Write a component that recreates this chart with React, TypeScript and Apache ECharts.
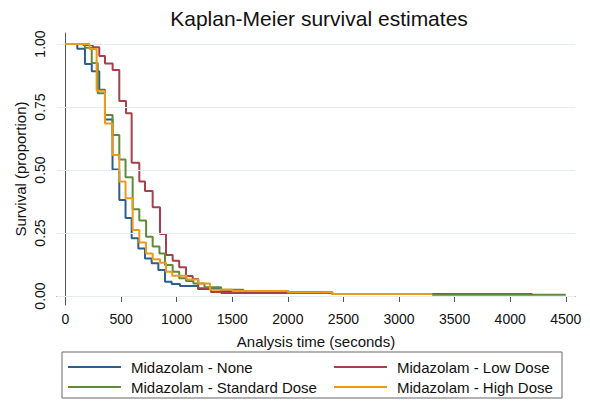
import React, { useEffect, useRef } from "react";
import * as echarts from "echarts";

const noneTimes = [0, 106, 175, 236, 304, 355, 423, 484, 540, 595, 655, 715, 775, 835, 895, 955, 1030, 1192, 1400, 2000, 2350];
const noneSurv = [1, 0.981, 0.921, 0.892, 0.818, 0.70, 0.502, 0.381, 0.31, 0.229, 0.189, 0.149, 0.13, 0.103, 0.057, 0.048, 0.04, 0.028, 0.02, 0.016, 0.016];

const lowTimes = [0, 160, 245, 304, 355, 424, 484, 544, 595, 664, 715, 784, 850, 904, 964, 1023, 1084, 1144, 1194, 1308, 1400, 2400, 4200];
const lowSurv = [1, 0.996, 0.987, 0.952, 0.923, 0.897, 0.774, 0.725, 0.529, 0.454, 0.417, 0.352, 0.246, 0.163, 0.14, 0.114, 0.079, 0.067, 0.031, 0.016, 0.012, 0.008, 0.008];

const stdTimes = [0, 175, 236, 290, 355, 423, 484, 540, 604, 664, 725, 784, 845, 895, 964, 1023, 1084, 1150, 1250, 1400, 1600, 2000, 2400, 3300, 4500];
const stdSurv = [1, 0.985, 0.925, 0.805, 0.718, 0.639, 0.542, 0.471, 0.344, 0.3, 0.235, 0.196, 0.169, 0.123, 0.096, 0.07, 0.06, 0.05, 0.035, 0.025, 0.02, 0.015, 0.008, 0.005, 0.005];

const highTimes = [0, 215, 280, 355, 423, 484, 540, 604, 664, 724, 784, 850, 904, 960, 1090, 1194, 1300, 1500, 2000, 2400, 3300];
const highSurv = [1, 0.98, 0.815, 0.685, 0.56, 0.454, 0.388, 0.262, 0.212, 0.169, 0.146, 0.132, 0.096, 0.08, 0.065, 0.05, 0.025, 0.02, 0.015, 0.008, 0.008];

const seriesNames = ["Midazolam - None", "Midazolam - Low Dose", "Midazolam - Standard Dose", "Midazolam - High Dose"];
const xTicks = [0, 500, 1000, 1500, 2000, 2500, 3000, 3500, 4000, 4500];
const yTicks = [0, 0.25, 0.5, 0.75, 1];

const FONT = "Liberation Sans, Arial, Helvetica, sans-serif";

function zip(t: number[], s: number[]) {
  return t.map((v, i) => [v, s[i]]);
}

export default function App() {
  const ref = useRef<HTMLDivElement>(null);
  useEffect(() => {
    if (!ref.current) return;
    const chart = echarts.init(ref.current, undefined, { renderer: "svg" });
    const colors = ["#2c5e8e", "#a8404c", "#5f8a3a", "#ec9a1c"];
    const datas = [zip(noneTimes, noneSurv), zip(lowTimes, lowSurv), zip(stdTimes, stdSurv), zip(highTimes, highSurv)];
    const series: any[] = datas.map((d, i) => ({
      name: seriesNames[i],
      type: "line",
      step: "end",
      symbol: "none",
      data: d,
      lineStyle: { width: 2, color: colors[i] },
      itemStyle: { color: colors[i] },
      z: 3 + i,
    }));
    series.unshift({
      name: "grid",
      type: "line",
      data: [],
      silent: true,
      z: 1,
      markLine: {
        silent: true,
        symbol: ["none", "none"],
        label: { show: false },
        lineStyle: { color: "#e4ecee", width: 1, type: "solid" },
        data: yTicks.map((v) => ({ yAxis: v })),
      },
    });
    const legendCommon = {
      orient: "vertical",
      top: 357,
      padding: 0,
      icon: "rect",
      itemWidth: 53,
      itemHeight: 2,
      itemGap: 0,
      textStyle: { fontFamily: FONT, fontSize: 15, color: "#111", lineHeight: 20, height: 20, padding: [0, 0, 0, 5] },
    };
    chart.setOption({
      animation: false,
      backgroundColor: "#ffffff",
      color: colors,
      title: {
        text: "Kaplan-Meier survival estimates",
        left: 314,
        textAlign: "center",
        top: 3,
        textStyle: { fontFamily: FONT, fontSize: 21, fontWeight: "normal", color: "#111" },
      },
      grid: { left: 57, right: 15, top: 33, bottom: 98, containLabel: false },
      xAxis: {
        type: "value",
        min: -76.5,
        max: 4583,
        name: "Analysis time (seconds)",
        nameLocation: "middle",
        nameGap: 29,
        nameTextStyle: { fontFamily: FONT, fontSize: 15, color: "#111" },
        axisLine: { show: true, lineStyle: { color: "#555", width: 1 } },
        axisTick: { show: true, length: 6, customValues: xTicks, lineStyle: { color: "#555" } },
        axisLabel: {
          customValues: xTicks,
          fontFamily: FONT,
          fontSize: 14,
          color: "#111",
          margin: 7,
          formatter: (v: number) => String(v),
        },
        splitLine: { show: false },
      },
      yAxis: {
        type: "value",
        min: -0.0357,
        max: 1.0437,
        name: "Survival (proportion)",
        nameLocation: "middle",
        nameGap: 29,
        nameMoveOverlap: false,
        nameTextStyle: { fontFamily: FONT, fontSize: 15, color: "#111" },
        axisLine: { show: true, lineStyle: { color: "#555", width: 1 } },
        axisTick: { show: true, length: 5, customValues: yTicks, lineStyle: { color: "#555" } },
        axisLabel: {
          customValues: yTicks,
          rotate: 90,
          fontFamily: FONT,
          fontSize: 14,
          color: "#111",
          margin: 10,
          formatter: (v: number) => v.toFixed(2),
        },
        splitLine: { show: false },
      },
      legend: [
        { ...legendCommon, data: [seriesNames[0], seriesNames[2]], left: 68 },
        { ...legendCommon, data: [seriesNames[1], seriesNames[3]], left: 334 },
      ],
      graphic: [
        {
          type: "rect",
          shape: { x: 62, y: 352, width: 500, height: 46 },
          style: { fill: "none", stroke: "#666", lineWidth: 1 },
          silent: true,
        },
      ],
      series,
    });
    return () => chart.dispose();
  }, []);
  return <div ref={ref} style={{ width: 590, height: 403, position: "absolute", left: 0, top: 0 }} />;
}
